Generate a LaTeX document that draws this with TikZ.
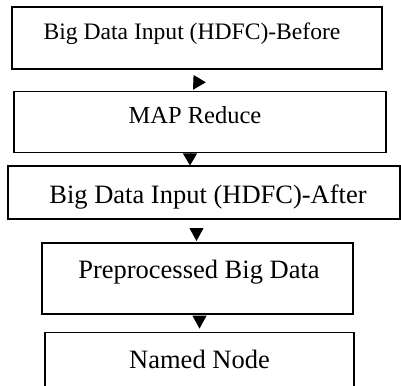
\documentclass[tikz,border=0pt]{standalone}
\usepackage{fontspec}
\setmainfont{Liberation Serif}
\usetikzlibrary{arrows.meta,positioning,calc}
\tikzset{
  blk/.style={draw,rectangle,line width=1.6pt,inner ysep=0pt,font=\fontsize{#1}{#1}\selectfont},
  blk/.default=23.6,
  arr/.style={-{Triangle[length=13pt,width=14pt]},line width=1pt}
}

\begin{document}
\begin{tikzpicture}[x=1pt,y=1pt]
  \useasboundingbox (0,0) rectangle (401,-385);
  \node[blk, minimum width=370pt, minimum height=62pt, text height=33pt, text depth=29pt] (before) at (197,-38) {Big Data Input (HDFC)-Before\hspace*{10pt}};
  \node[blk=24.5, below=21pt of before, xshift=3pt, minimum width=372pt, minimum height=61pt, text height=32pt, text depth=29pt] (mapred) {MAP Reduce\hspace*{10pt}};
  \node[blk=26.5, below=12pt of mapred, xshift=4pt, minimum width=392pt, minimum height=53pt, text height=37pt, text depth=16pt] (after) {\hspace*{8pt}Big Data Input (HDFC)-After};
  \node[blk=26.5, below=22pt of after, xshift=-6.5pt, minimum width=311pt, minimum height=71pt, text height=36pt, text depth=35pt] (prep) {\hspace*{3pt}Preprocessed Big Data};
  \node[blk=26.5, below=17pt of prep, xshift=2pt, minimum width=309pt, minimum height=70pt, text height=36pt, text depth=34pt] (named) {Named Node};

  \draw[arr, shorten <=11pt] ([xshift=8pt]before.south) -- ([xshift=-7pt,yshift=1pt]mapred.north);
  \draw[arr, -{Triangle[length=12pt,width=14pt]}] ([xshift=-10pt]mapred.south) -- ([xshift=-14pt]after.north);
  \draw[arr, shorten <=9pt, shorten >=1pt] ([xshift=-7.5pt]after.south) -- ([xshift=-1pt]prep.north);
  \draw[arr, shorten <=1pt, shorten >=3pt] ([xshift=2pt]prep.south) -- (named.north);
\end{tikzpicture}
\end{document}
